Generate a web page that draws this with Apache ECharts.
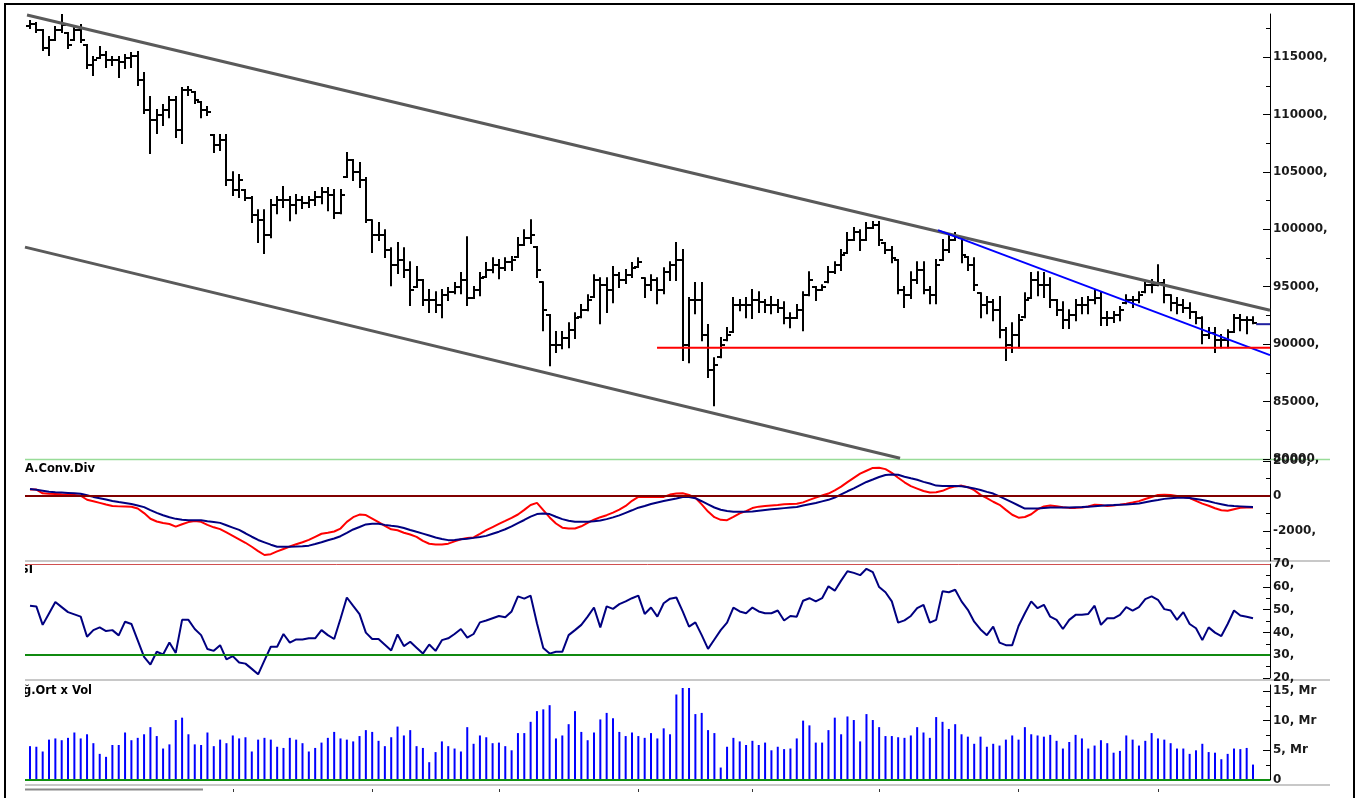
<!DOCTYPE html>
<html>
<head>
<meta charset="utf-8">
<script src="https://cdn.jsdelivr.net/npm/echarts@6/dist/echarts.min.js"></script>
<style>
  html, body { margin: 0; padding: 0; background: #fff; }
  #chart { width: 1369px; height: 798px; }
</style>
</head>
<body>
<div id="chart"></div>
<script>
// ---- price bars (OHLC), one entry per session ----
const opens = [
  117700, 117870, 117350, 115780, 116480, 117350, 117090, 116480, 117350, 116050,
  114300, 114910, 115170, 114740, 114740, 114560, 114910, 115090, 113000, 110380,
  109510, 109950, 110380, 111250, 108640, 112130, 111950, 111080, 110380, 108210,
  107340, 107770, 104290, 103420, 103420, 102720, 101240, 100800, 99500, 102110,
  102550, 102550, 102110, 102550, 102280, 102550, 102810, 103240, 102980, 101410,
  104550, 106030, 104980, 104290, 100800, 99500, 99500, 98190, 96880, 97320,
  96450, 94970, 95580, 93840, 93840, 93400, 94270, 94530, 94970, 95580,
  94010, 94710, 95840, 96450, 96880, 96620, 97140, 97580, 98630, 99240,
  98450, 95400, 92530, 89920, 89920, 90530, 91220, 92350, 92960, 94100,
  95580, 95140, 94710, 96010, 95580, 96010, 96710, 95750, 95140, 95580,
  94710, 96270, 96880, 97320, 89920, 93840, 93840, 90790, 87740, 88870,
  90350, 91050, 93400, 93400, 93400, 93840, 93660, 93400, 93400, 93140,
  92270, 92270, 92960, 94270, 94970, 94710, 95400, 96270, 96880, 97930,
  99060, 99760, 99060, 100110, 100370, 98800, 98190, 97320, 94710, 94270,
  95580, 96450, 94710, 94270, 97320, 98190, 99060, 99240, 97580, 96880,
  94440, 93400, 93660, 92960, 91220, 89920, 90790, 92350, 94010, 95580,
  95140, 95140, 93840, 92960, 92090, 92530, 93400, 93400, 93840, 94010,
  92270, 92270, 92530, 93570, 93840, 93840, 94530, 95140, 95140, 95320,
  94270, 93570, 93400, 93140, 92790, 92270, 90790, 90960, 90350, 90350,
  91050, 92270, 92090, 92090
];
const highs = [
  118140, 117960, 117350, 116740, 117610, 118660, 117090, 117610, 117790, 116050,
  115000, 115870, 115440, 115000, 115000, 115170, 115350, 115440, 113610, 111520,
  110380, 110820, 111520, 111520, 112300, 112390, 111950, 111080, 110650, 108210,
  108210, 108210, 104980, 104720, 103420, 102810, 101670, 101670, 102550, 102810,
  103680, 102810, 102980, 102810, 102810, 103240, 103590, 103590, 103420, 103420,
  106640, 106030, 105770, 104460, 100800, 100540, 99930, 98360, 98800, 98360,
  97140, 96710, 95580, 94710, 94530, 94710, 94880, 95320, 96190, 99320,
  94970, 96190, 97060, 97490, 97320, 97490, 97580, 99240, 99930, 100800,
  98450, 95400, 92530, 91050, 91050, 91830, 92700, 93400, 94270, 96010,
  95750, 95750, 96710, 96190, 96450, 97060, 97490, 95750, 96010, 95750,
  96620, 97140, 98800, 98190, 94010, 95320, 95320, 91660, 88780, 90530,
  91400, 94010, 93840, 94010, 94710, 94530, 93840, 94100, 93840, 93660,
  92700, 93400, 94530, 96270, 94970, 95140, 96710, 97140, 98190, 99670,
  100110, 99930, 100540, 100630, 100630, 98800, 98450, 97320, 94970, 96270,
  97140, 97140, 94970, 97320, 99060, 99500, 99670, 99240, 97580, 97490,
  94440, 94100, 93840, 94100, 91400, 91830, 92530, 94440, 96190, 96270,
  96190, 95750, 93840, 93660, 92960, 93840, 94010, 94100, 94710, 94530,
  92790, 92790, 93230, 94270, 94100, 94530, 95400, 95580, 96880, 95580,
  94270, 94010, 93840, 93570, 92790, 92350, 91400, 91400, 90790, 91220,
  92530, 92530, 92350, 92350
];
const lows = [
  117530, 117180, 115610, 115170, 116480, 117180, 115780, 116480, 116310, 114040,
  113430, 114910, 114130, 114300, 113260, 114040, 114130, 112560, 110120, 106640,
  108380, 109080, 109770, 108030, 107510, 111690, 110990, 109770, 109950, 106730,
  106900, 103850, 102980, 102810, 102550, 100630, 98890, 97930, 99320, 101410,
  101940, 100800, 101410, 101850, 101940, 102110, 102280, 101670, 100980, 101410,
  104550, 104290, 103680, 100630, 98020, 99060, 97580, 95140, 96190, 95840,
  93400, 94970, 93400, 92790, 92790, 92350, 93840, 94440, 94440, 93400,
  94010, 94270, 95840, 96270, 95750, 96450, 96450, 97580, 98630, 98800,
  95840, 91220, 88170, 89310, 89650, 89740, 90530, 92350, 92960, 94100,
  91830, 92790, 93660, 94970, 95320, 95840, 96710, 94100, 94710, 93570,
  94440, 95580, 95580, 88610, 88430, 92700, 90350, 87130, 84690, 88870,
  90350, 91050, 92960, 92350, 92270, 92790, 92790, 92700, 92790, 91830,
  91480, 92270, 91220, 94270, 93840, 94710, 95400, 96190, 96450, 97930,
  99060, 98190, 99060, 100110, 98630, 97930, 97140, 94440, 93230, 94010,
  95320, 94440, 93570, 93570, 97320, 98020, 99060, 97140, 96450, 94710,
  92350, 92700, 92090, 90610, 88610, 89310, 89740, 92350, 94010, 94270,
  94100, 93230, 92530, 91400, 91400, 92090, 92700, 92700, 93570, 91660,
  91660, 91920, 92090, 93570, 93230, 93660, 94530, 94530, 95140, 93660,
  92960, 92700, 92790, 92270, 91830, 90090, 90530, 89310, 89740, 89740,
  91050, 91220, 90960, 91830
];
const closes = [
  117870, 117350, 115780, 116480, 117350, 117790, 116050, 117350, 116480, 114300,
  114740, 115170, 114740, 114740, 114560, 114910, 115090, 113000, 110380, 109510,
  109950, 110380, 111250, 108640, 112130, 112130, 111250, 110380, 110210, 107340,
  107770, 104290, 103420, 104290, 102720, 101240, 100800, 99500, 102110, 102550,
  102550, 102110, 102550, 102280, 102550, 102810, 103240, 102980, 101410, 102980,
  106030, 104980, 104290, 100800, 99500, 99500, 98190, 96880, 97320, 96450,
  94710, 95580, 93840, 93840, 93400, 94270, 94530, 94970, 95580, 94010,
  94710, 95750, 96450, 96880, 96620, 97140, 97320, 98630, 99240, 99500,
  96450, 92960, 89920, 89920, 90530, 91220, 92270, 92960, 93840, 95580,
  95140, 94710, 96010, 95580, 96010, 96620, 97140, 95140, 95580, 94710,
  96270, 96880, 97320, 89920, 93840, 93840, 90790, 87740, 88170, 89920,
  90790, 93400, 93400, 93400, 93840, 93660, 93400, 93400, 93140, 92270,
  92270, 92960, 94270, 95580, 94710, 94970, 96270, 96880, 97750, 99060,
  99760, 99060, 100110, 100370, 99060, 98190, 97490, 94710, 94270, 95580,
  96450, 94710, 94270, 96880, 98190, 99060, 99320, 97750, 96880, 95140,
  93400, 93660, 92960, 91220, 89920, 90790, 92090, 93840, 95580, 95140,
  95140, 93840, 92960, 92090, 92530, 93400, 93400, 93840, 94010, 92270,
  92270, 92530, 92960, 93840, 93840, 94270, 95140, 95140, 95320, 94270,
  93570, 93400, 93140, 92790, 92270, 90790, 90960, 90350, 90350, 91050,
  92270, 92090, 92090, 91830
];

// ---- volume (Mr) ----
const volumes = [
  5.7, 5.6, 4.8, 6.8, 7.0, 6.7, 7.1, 8.0, 7.0, 7.7,
  6.2, 4.4, 3.9, 5.9, 5.9, 8.0, 6.7, 7.1, 7.7, 8.9,
  7.4, 5.3, 6.0, 10.1, 10.5, 7.7, 6.0, 5.9, 8.0, 5.7,
  6.8, 6.2, 7.5, 7.0, 7.2, 4.8, 6.8, 7.1, 6.8, 5.6,
  5.4, 7.1, 6.8, 6.2, 4.8, 5.4, 6.3, 7.1, 8.1, 7.0,
  6.8, 6.5, 7.4, 8.4, 8.1, 6.6, 5.7, 7.2, 9.0, 7.5,
  8.4, 5.7, 5.4, 3.0, 4.7, 6.5, 5.7, 5.3, 4.8, 8.9,
  6.1, 7.5, 7.2, 6.2, 6.3, 5.7, 5.0, 7.9, 7.9, 9.8,
  11.6, 11.9, 12.6, 7.0, 7.5, 9.4, 11.6, 8.1, 6.7, 8.0,
  10.2, 11.3, 10.4, 8.1, 7.4, 8.0, 7.4, 7.1, 7.9, 7.0,
  8.7, 7.7, 14.4, 15.5, 15.5, 11.1, 11.3, 8.4, 7.9, 2.1,
  5.6, 7.1, 6.5, 5.9, 6.6, 5.9, 6.3, 5.0, 5.6, 5.2,
  5.3, 7.0, 10.0, 9.2, 6.3, 6.3, 8.4, 10.5, 7.7, 10.7,
  10.1, 6.5, 11.1, 10.1, 8.9, 7.4, 7.4, 7.2, 7.1, 7.5,
  8.9, 8.0, 7.1, 10.6, 9.8, 8.6, 9.4, 7.7, 7.3, 6.1,
  7.3, 5.6, 6.1, 5.8, 6.8, 7.5, 6.8, 8.9, 7.7, 7.5,
  7.3, 7.6, 6.6, 5.3, 6.4, 7.6, 7.0, 5.3, 5.8, 6.7,
  6.2, 4.6, 4.9, 7.5, 6.8, 5.8, 6.6, 7.9, 7.0, 6.8,
  6.2, 5.3, 5.3, 4.4, 5.0, 6.1, 4.7, 4.6, 3.5, 4.4,
  5.3, 5.2, 5.4, 2.6
];

// ---- MACD line and its signal ----
const macd = [
  370, 360, 150, 120, 110, 90, 75, 55, 10, -220,
  -310, -400, -490, -575, -600, -610, -625, -725, -985, -1310,
  -1465, -1555, -1610, -1760, -1625, -1500, -1435, -1485, -1660, -1800,
  -1905, -2095, -2285, -2485, -2685, -2915, -3160, -3385, -3340, -3180,
  -3040, -2900, -2770, -2655, -2520, -2345, -2170, -2110, -2040, -1870,
  -1485, -1220, -1070, -1100, -1300, -1500, -1720, -1915, -1970, -2110,
  -2210, -2345, -2580, -2740, -2780, -2785, -2735, -2605, -2485, -2415,
  -2380, -2175, -1965, -1785, -1605, -1435, -1255, -1065, -800, -520,
  -400, -820, -1235, -1580, -1820, -1865, -1865, -1740, -1550, -1365,
  -1220, -1105, -960, -790, -575, -280, -60, -60, -60, -60,
  -57, 76, 135, 155, 60, -115, -485, -900, -1220, -1370,
  -1390, -1200, -1000, -875, -695, -615, -580, -550, -520, -475,
  -460, -445, -370, -225, -100, 20, 135, 315, 530, 790,
  1035, 1275, 1440, 1605, 1610, 1535, 1320, 1040, 780, 560,
  420, 280, 190, 215, 290, 445, 545, 590, 500, 330,
  60, -130, -335, -510, -800, -1080, -1250, -1210, -1050, -770,
  -600, -550, -590, -650, -686, -686, -660, -610, -510, -520,
  -585, -550, -500, -445, -380, -300, -175, -60, 50, 65,
  50, 0, -60, -120, -280, -445, -565, -710, -825, -850,
  -760, -675, -667, -667
];
const signal = [
  400, 350, 300, 240, 210, 190, 170, 150, 125, 35,
  -57, -130, -210, -290, -350, -405, -460, -545, -645, -810,
  -970, -1105, -1225, -1315, -1360, -1390, -1390, -1400, -1455, -1495,
  -1545, -1680, -1815, -1950, -2140, -2340, -2525, -2660, -2795, -2915,
  -2915, -2915, -2905, -2890, -2850, -2755, -2655, -2540, -2440, -2310,
  -2120, -1924, -1780, -1635, -1600, -1600, -1660, -1710, -1755, -1840,
  -1950, -2057, -2160, -2270, -2380, -2470, -2534, -2525, -2490, -2455,
  -2405, -2350, -2290, -2170, -2050, -1910, -1750, -1560, -1380, -1185,
  -1040, -1005, -1040, -1195, -1330, -1425, -1486, -1486, -1486, -1450,
  -1410, -1330, -1230, -1115, -970, -825, -675, -580, -465, -375,
  -295, -215, -145, -65, -57, -130, -305, -485, -665, -795,
  -870, -914, -914, -914, -890, -850, -810, -770, -735, -700,
  -665, -630, -555, -480, -405, -315, -225, -95, 85, 265,
  430, 615, 800, 940, 1085, 1200, 1220, 1210, 1100, 1010,
  925, 805, 710, 590, 572, 572, 565, 555, 500, 430,
  340, 230, 133, -30, -195, -370, -550, -724, -724, -720,
  -690, -667, -667, -667, -660, -650, -640, -615, -590, -560,
  -530, -520, -505, -495, -470, -430, -360, -295, -235, -170,
  -130, -110, -100, -125, -180, -240, -310, -400, -475, -555,
  -585, -600, -615, -629
];

// ---- RSI ----
const rsi = [
  51.7, 51.4, 43.3, 48.3, 53.3, 51.1, 48.9, 47.9, 46.9, 38.1,
  41.0, 42.2, 40.6, 41.0, 38.7, 44.7, 43.7, 36.5, 29.3, 25.9,
  31.5, 30.3, 35.6, 31.0, 45.5, 45.5, 41.5, 38.8, 32.7, 31.9,
  34.4, 28.2, 29.6, 26.8, 26.3, 24.0, 21.6, 27.7, 33.7, 33.7,
  39.3, 35.5, 36.9, 36.9, 37.4, 37.4, 41.0, 38.8, 37.1, 46.0,
  55.3, 51.6, 48.0, 39.9, 37.1, 37.1, 34.6, 32.1, 39.1, 34.0,
  35.9, 33.3, 30.7, 34.7, 31.9, 36.6, 37.4, 39.3, 41.5, 37.7,
  39.3, 44.4, 45.2, 46.2, 47.2, 46.6, 49.2, 55.8, 54.8, 56.1,
  44.0, 33.2, 30.7, 31.5, 31.5, 38.8, 41.0, 43.3, 46.9, 50.9,
  42.2, 51.4, 50.3, 52.4, 53.6, 55.0, 56.1, 48.1, 50.9, 46.9,
  52.8, 54.8, 55.3, 49.2, 42.5, 44.4, 38.8, 32.8, 36.9, 41.0,
  44.3, 50.9, 49.2, 48.4, 50.9, 49.2, 48.4, 48.4, 49.6, 45.2,
  47.2, 46.9, 53.9, 55.0, 53.6, 55.0, 60.2, 58.3, 62.7, 66.8,
  66.1, 65.1, 67.9, 66.4, 59.9, 57.6, 53.6, 44.3, 45.3, 47.2,
  50.6, 52.1, 44.3, 45.5, 58.0, 57.6, 58.7, 53.6, 49.9, 44.7,
  41.3, 38.8, 42.5, 35.5, 34.4, 34.4, 42.8, 48.4, 53.6, 50.6,
  52.1, 46.9, 45.5, 41.5, 45.5, 47.7, 47.7, 48.1, 51.7, 43.3,
  46.2, 46.2, 47.7, 51.1, 49.6, 51.1, 54.6, 55.8, 54.3, 50.2,
  49.6, 45.5, 48.9, 43.7, 41.8, 36.6, 42.2, 39.9, 38.4, 43.7,
  49.6, 47.4, 46.9, 46.2
];

// ---- drawn lines on the price panel: [session index, price] ----
const upperChannel = [[-0.47, 118660], [195.68, 92960]];
const lowerChannel = [[-0.79, 98450], [137.3, 80070]];
const blueTrend = [[143.29, 99930], [195.68, 89040]];
const supportLine = [[98.95, 89680], [195.68, 89680]];
const lastClose = [[193.5, 91740], [195.68, 91740]];

// ---- axis ticks ----
const priceTicks = [80000, 85000, 90000, 95000, 100000, 105000, 110000, 115000];
const priceMinor = [82500, 87500, 92500, 97500, 102500, 107500, 112500, 117500];
const macdTicks = [-2000, 0, 2000];
const macdMinor = [-3000, -1000, 1000];
const rsiTicks = [20, 30, 40, 50, 60, 70];
const rsiMinor = [25, 35, 45, 55, 65];
const volTicks = [0, 5, 10, 15];
const volMinor = [2.5, 7.5, 12.5];
const monthTicks = [32, 54, 74, 96, 114, 134, 156, 178];

const xMin = -0.79, xMax = 195.68;
const labelFont = { color: '#1a1a1a', fontFamily: 'DejaVu Sans', fontWeight: 'bold', fontSize: 12 };

const chart = echarts.init(document.getElementById('chart'));

function sideAxis(grid, min, max, majors, minors, fmt) {
  return [{
    gridIndex: grid, type: 'value', position: 'right', min: min, max: max,
    axisLine: { show: true, onZero: false, lineStyle: { color: '#000', width: 1 } },
    axisTick: { show: true, inside: true, length: 7, customValues: majors, lineStyle: { color: '#000' } },
    axisLabel: Object.assign({ show: true, customValues: majors, formatter: fmt, margin: 3 }, labelFont),
    splitLine: { show: false }
  }, {
    gridIndex: grid, type: 'value', position: 'right', min: min, max: max,
    axisLine: { show: false, onZero: false },
    axisTick: { show: true, inside: true, length: 4, customValues: minors, lineStyle: { color: '#000' } },
    axisLabel: { show: false },
    splitLine: { show: false }
  }];
}

function ohlcItem(params, api) {
  const x = api.value(0);
  const o = api.coord([x, api.value(1)]);
  const h = api.coord([x, api.value(2)]);
  const l = api.coord([x, api.value(3)]);
  const c = api.coord([x, api.value(4)]);
  const px = Math.round(h[0]);
  const st = { stroke: '#000', lineWidth: 2 };
  return {
    type: 'group',
    children: [
      { type: 'line', shape: { x1: px, y1: h[1] - 1, x2: px, y2: l[1] + 1 }, style: st },
      { type: 'line', shape: { x1: px - 4, y1: Math.round(o[1]), x2: px, y2: Math.round(o[1]) }, style: st },
      { type: 'line', shape: { x1: px, y1: Math.round(c[1]), x2: px + 4, y2: Math.round(c[1]) }, style: st }
    ]
  };
}

const bars = opens.map((o, i) => [i, o, highs[i], lows[i], closes[i]]);
const indexed = arr => arr.map((v, i) => [i, v]);

function hLine(x1, x2, y, color, w) {
  return { type: 'line', silent: true, shape: { x1: x1, y1: y, x2: x2, y2: y }, style: { stroke: color, lineWidth: w } };
}
function title(text, x, y, align) {
  return { type: 'text', silent: true, x: x, y: y, style: { text: text, align: align, verticalAlign: 'middle', fill: '#000', font: 'bold 11.5px "DejaVu Sans"' } };
}

const option = {
  animation: false,
  backgroundColor: '#fff',
  grid: [
    { left: 25, right: 99, top: 14, height: 445 },
    { left: 25, right: 99, top: 461, height: 100 },
    { left: 25, right: 99, top: 564, height: 114 },
    { left: 25, right: 99, top: 685, height: 95 }
  ],
  xAxis: [
    { gridIndex: 0, type: 'value', min: xMin, max: xMax, show: false },
    { gridIndex: 1, type: 'value', min: xMin, max: xMax, show: false },
    { gridIndex: 2, type: 'value', min: xMin, max: xMax, show: false },
    {
      gridIndex: 3, type: 'value', min: xMin, max: xMax, position: 'bottom', offset: 9,
      axisLine: { show: false, onZero: false },
      axisTick: { show: true, length: 3, customValues: monthTicks, lineStyle: { color: '#333' } },
      axisLabel: { show: false }, splitLine: { show: false }
    }
  ],
  yAxis: [].concat(
    sideAxis(0, 80000, 118750, priceTicks, priceMinor, v => v + ','),
    sideAxis(1, -3730, 2000, macdTicks, macdMinor, v => (v === 0 ? '0' : v + ',')),
    sideAxis(2, 20, 70, rsiTicks, rsiMinor, v => v + ','),
    sideAxis(3, 0, 16, volTicks, volMinor, v => (v === 0 ? '0' : v + ', Mr'))
  ),
  series: [
    {
      type: 'custom', name: 'Fiyat', xAxisIndex: 0, yAxisIndex: 0,
      renderItem: ohlcItem, data: bars, encode: { x: 0, y: [1, 2, 3, 4] }, z: 2
    },
    { type: 'line', xAxisIndex: 0, yAxisIndex: 0, data: upperChannel, symbol: 'none', z: 3,
      lineStyle: { color: '#5a5a5a', width: 3 } },
    { type: 'line', xAxisIndex: 0, yAxisIndex: 0, data: lowerChannel, symbol: 'none', z: 3,
      lineStyle: { color: '#5a5a5a', width: 3 } },
    { type: 'line', xAxisIndex: 0, yAxisIndex: 0, data: blueTrend, symbol: 'none', z: 3,
      lineStyle: { color: '#0000ff', width: 2 } },
    { type: 'line', xAxisIndex: 0, yAxisIndex: 0, data: supportLine, symbol: 'none', z: 3,
      lineStyle: { color: '#ff0000', width: 2 } },
    { type: 'line', xAxisIndex: 0, yAxisIndex: 0, data: lastClose, symbol: 'none', z: 3,
      lineStyle: { color: '#2020a0', width: 2 } },
    {
      type: 'line', name: 'MACD', xAxisIndex: 1, yAxisIndex: 2, data: indexed(macd), symbol: 'none',
      lineStyle: { color: '#ff0000', width: 2 }, z: 3,
      markLine: { silent: true, symbol: 'none', label: { show: false },
        lineStyle: { color: '#800000', width: 2, type: 'solid' }, data: [{ yAxis: 0 }] }
    },
    {
      type: 'line', name: 'Signal', xAxisIndex: 1, yAxisIndex: 2, data: indexed(signal), symbol: 'none',
      lineStyle: { color: '#000080', width: 2 }, z: 4
    },
    {
      type: 'line', name: 'RSI', xAxisIndex: 2, yAxisIndex: 4, data: indexed(rsi), symbol: 'none',
      lineStyle: { color: '#000080', width: 2 }, z: 4,
      markLine: { silent: true, symbol: 'none', label: { show: false },
        data: [
          { yAxis: 70, lineStyle: { color: '#d05050', width: 1, type: 'solid' } },
          { yAxis: 30, lineStyle: { color: '#108a10', width: 2, type: 'solid' } }
        ] }
    },
    {
      type: 'bar', name: 'Vol', xAxisIndex: 3, yAxisIndex: 6, data: indexed(volumes), barWidth: 2,
      itemStyle: { color: '#0000ff' },
      markLine: { silent: true, symbol: 'none', label: { show: false },
        lineStyle: { color: '#109010', width: 2, type: 'solid' }, data: [{ yAxis: 0 }] }
    }
  ],
  graphic: [
    { type: 'rect', silent: true, shape: { x: 5, y: 4, width: 1349, height: 810 },
      style: { fill: 'none', stroke: '#000', lineWidth: 2 } },
    hLine(25, 1330, 459.5, '#98dc98', 1.5),
    hLine(25, 1330, 561, '#c8c8c8', 2),
    hLine(25, 1330, 680, '#c8c8c8', 2),
    hLine(25, 1330, 785, '#c8c8c8', 2),
    hLine(25, 203, 789.5, '#8a8a8a', 2),
    title('A.Conv.Div', 25, 469, 'left'),
    title('RSI', 33, 570, 'right'),
    title('Ağ.Ort x Vol', 92, 691, 'right'),
    { type: 'rect', silent: true, shape: { x: 7, y: 462, width: 18, height: 236 }, style: { fill: '#fff' } }
  ]
};

chart.setOption(option);
</script>
</body>
</html>
